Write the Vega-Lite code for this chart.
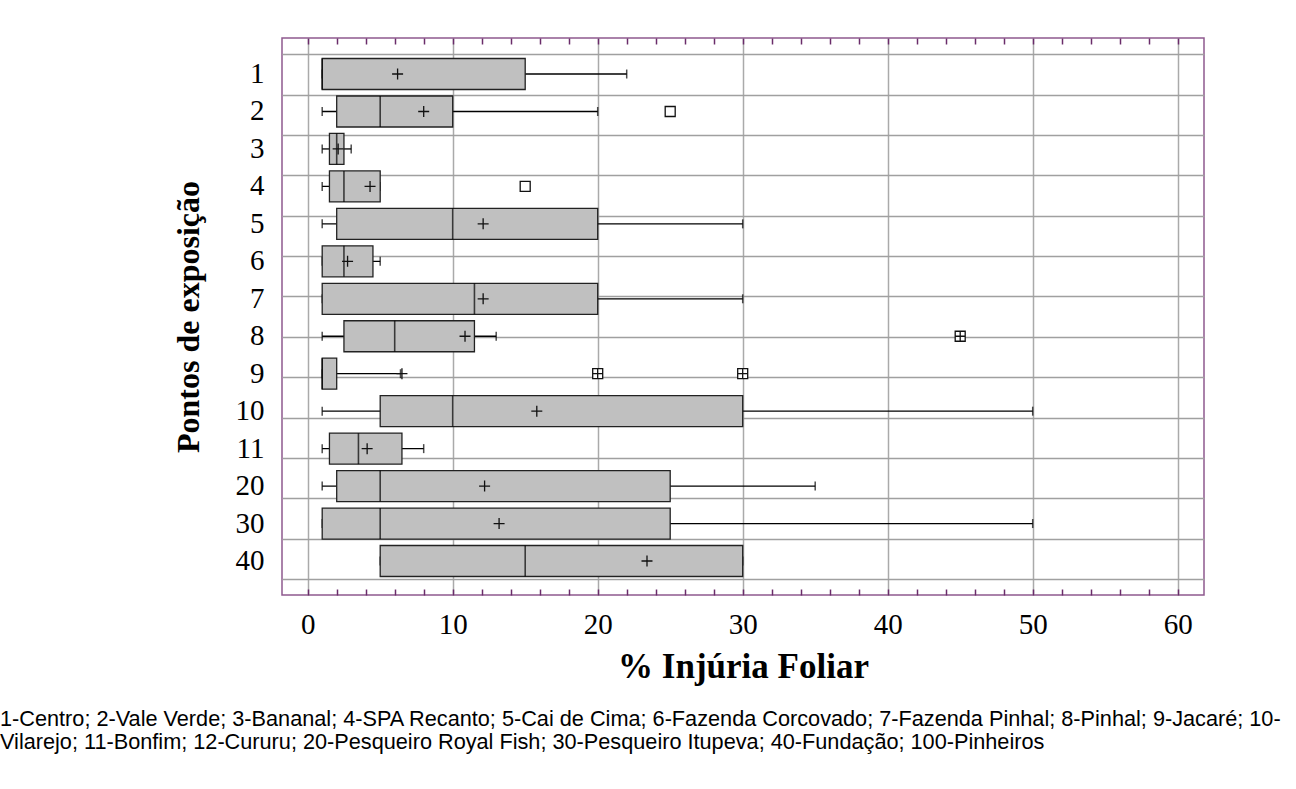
{
  "$schema": "https://vega.github.io/schema/vega-lite/v6.json",
  "width": 922,
  "height": 557,
  "autosize": {"type": "none"},
  "padding": {"left": 282, "top": 38, "right": 92, "bottom": 194},
  "background": "white",
  "config": {
    "view": {"stroke": "#8e5a8e", "strokeWidth": 1.5},
    "font": "Liberation Serif",
    "axis": {"labelColor": "black", "titleColor": "black"}
  },
  "title": {
    "text": [
      "1-Centro; 2-Vale Verde; 3-Bananal; 4-SPA Recanto; 5-Cai de Cima; 6-Fazenda Corcovado; 7-Fazenda Pinhal; 8-Pinhal; 9-Jacaré; 10-",
      "Vilarejo; 11-Bonfim; 12-Cururu; 20-Pesqueiro Royal Fish; 30-Pesqueiro Itupeva; 40-Fundação; 100-Pinheiros"
    ],
    "orient": "bottom",
    "anchor": "start",
    "frame": "group",
    "font": "Liberation Sans",
    "fontSize": 21.7,
    "fontWeight": "normal",
    "lineHeight": 23,
    "color": "black",
    "dx": -282,
    "offset": 25
  },
  "datasets": {
    "boxes": [
      {"ponto": "1", "min": 1, "q1": 1, "median": 1, "q3": 15, "max": 22, "mean": 6.2},
      {"ponto": "2", "min": 1, "q1": 2, "median": 5, "q3": 10, "max": 20, "mean": 8},
      {"ponto": "3", "min": 1, "q1": 1.5, "median": 2, "q3": 2.5, "max": 3, "mean": 2.1},
      {"ponto": "4", "min": 1, "q1": 1.5, "median": 2.5, "q3": 5, "max": 5, "mean": 4.3},
      {"ponto": "5", "min": 1, "q1": 2, "median": 10, "q3": 20, "max": 30, "mean": 12.1},
      {"ponto": "6", "min": 1, "q1": 1, "median": 2.5, "q3": 4.5, "max": 5, "mean": 2.75},
      {"ponto": "7", "min": 1, "q1": 1, "median": 11.5, "q3": 20, "max": 30, "mean": 12.1},
      {"ponto": "8", "min": 1, "q1": 2.5, "median": 6, "q3": 11.5, "max": 13, "mean": 10.85},
      {"ponto": "9", "min": 1, "q1": 1, "median": 1, "q3": 2, "max": 6.4, "mean": 6.5},
      {"ponto": "10", "min": 1, "q1": 5, "median": 10, "q3": 30, "max": 50, "mean": 15.8},
      {"ponto": "11", "min": 1, "q1": 1.5, "median": 3.5, "q3": 6.5, "max": 8, "mean": 4.1},
      {"ponto": "20", "min": 1, "q1": 2, "median": 5, "q3": 25, "max": 35, "mean": 12.2},
      {"ponto": "30", "min": 1, "q1": 1, "median": 5, "q3": 25, "max": 50, "mean": 13.2},
      {"ponto": "40", "min": 5, "q1": 5, "median": 15, "q3": 30, "max": 30, "mean": 23.4}
    ],
    "outliers": [
      {"ponto": "2", "value": 25, "kind": "outlier"},
      {"ponto": "4", "value": 15, "kind": "outlier"},
      {"ponto": "8", "value": 45, "kind": "extreme"},
      {"ponto": "9", "value": 20, "kind": "extreme"},
      {"ponto": "9", "value": 30, "kind": "extreme"}
    ]
  },
  "data": {"name": "boxes"},
  "layer": [
    {
      "mark": {"type": "point", "opacity": 0, "size": 0},
      "encoding": {
        "x": {
          "datum": 0, "type": "quantitative",
          "scale": {"domain": [-1.772, 61.814], "nice": false, "zero": false},
          "axis": {
            "orient": "top", "values": [0,2,4,6,8,10,12,14,16,18,20,22,24,26,28,30,32,34,36,38,40,42,44,46,48,50,52,54,56,58,60],
            "tickCount": 100,
            "labels": false, "ticks": true, "tickSize": -6, "tickColor": "#6a2c6a", "tickWidth": 1.5,
            "domain": false, "grid": false, "title": null
          }
        },
        "y": {
          "datum": 0, "type": "quantitative",
          "scale": {"domain": [-0.404, 13.396], "reverse": true, "nice": false, "zero": false},
          "axis": {
            "orient": "right", "values": [0,1,2,3,4,5,6,7,8,9,10,11,12,13],
            "tickCount": 100,
            "labels": false, "ticks": false, "domain": false, "grid": true,
            "gridColor": "#a0a0a0", "gridWidth": 1.5, "title": null
          }
        }
      }
    },
    {
      "layer": [
        {
          "mark": {"type": "rule", "color": "black", "strokeWidth": 1.3},
          "encoding": {
            "x": {
              "field": "min", "type": "quantitative",
              "scale": {"domain": [-1.772, 61.814], "nice": false, "zero": false},
              "axis": {
                "orient": "bottom", "values": [0,2,4,6,8,10,12,14,16,18,20,22,24,26,28,30,32,34,36,38,40,42,44,46,48,50,52,54,56,58,60],
                "tickCount": 100,
                "format": "d",
                "labelExpr": "datum.value % 10 === 0 ? format(datum.value, 'd') : ''",
                "labelOverlap": false,
                "labelFont": "Liberation Serif", "labelFontSize": 29, "labelPadding": 21,
                "ticks": true, "tickSize": -6, "tickColor": "#6a2c6a", "tickWidth": 1.5,
                "domain": false, "grid": true, "gridColor": "#aaaaaa", "gridWidth": 1.5,
                "gridOpacity": {"condition": {"test": "datum.value % 10 === 0", "value": 1}, "value": 0},
                "title": "% Injúria Foliar", "titleFont": "Liberation Serif", "titleFontSize": 35,
                "titleFontWeight": "bold", "titlePadding": 10
              }
            },
            "x2": {"field": "max"},
            "y": {
              "field": "ponto", "type": "nominal",
              "scale": {"type": "band", "domain": ["1","2","3","4","5","6","7","8","9","10","11","20","30","40"], "paddingInner": 0.1724, "paddingOuter": 0.5207, "align": 0.526},
              "axis": {
                "orient": "left", "labelFont": "Liberation Serif", "labelFontSize": 29, "labelPadding": 18,
                "ticks": false, "domain": false, "grid": false,
                "title": "Pontos de exposição", "titleFont": "Liberation Serif", "titleFontSize": 32,
                "titleFontWeight": "bold", "titlePadding": 30
              }
            }
          }
        },
        {
          "mark": {"type": "tick", "color": "black", "size": 9, "thickness": 1.5},
          "encoding": {
            "x": {"field": "min", "type": "quantitative", "scale": {"domain": [-1.772, 61.814], "nice": false, "zero": false}},
            "y": {"field": "ponto", "type": "nominal", "scale": {"type": "band", "domain": ["1","2","3","4","5","6","7","8","9","10","11","20","30","40"], "paddingInner": 0.1724, "paddingOuter": 0.5207, "align": 0.526}}
          }
        },
        {
          "mark": {"type": "tick", "color": "black", "size": 9, "thickness": 1.5},
          "encoding": {
            "x": {"field": "max", "type": "quantitative", "scale": {"domain": [-1.772, 61.814], "nice": false, "zero": false}},
            "y": {"field": "ponto", "type": "nominal", "scale": {"type": "band", "domain": ["1","2","3","4","5","6","7","8","9","10","11","20","30","40"], "paddingInner": 0.1724, "paddingOuter": 0.5207, "align": 0.526}}
          }
        },
        {
          "mark": {"type": "bar", "fill": "#c0c0c0", "stroke": "#222222", "strokeWidth": 1.3},
          "encoding": {
            "x": {"field": "q1", "type": "quantitative", "scale": {"domain": [-1.772, 61.814], "nice": false, "zero": false}},
            "x2": {"field": "q3"},
            "y": {"field": "ponto", "type": "nominal", "scale": {"type": "band", "domain": ["1","2","3","4","5","6","7","8","9","10","11","20","30","40"], "paddingInner": 0.1724, "paddingOuter": 0.5207, "align": 0.526}}
          }
        },
        {
          "mark": {"type": "tick", "color": "black", "size": 31, "thickness": 1.6},
          "encoding": {
            "x": {"field": "median", "type": "quantitative", "scale": {"domain": [-1.772, 61.814], "nice": false, "zero": false}},
            "y": {"field": "ponto", "type": "nominal", "scale": {"type": "band", "domain": ["1","2","3","4","5","6","7","8","9","10","11","20","30","40"], "paddingInner": 0.1724, "paddingOuter": 0.5207, "align": 0.526}}
          }
        },
        {
          "mark": {"type": "point", "shape": "M-1,0L1,0M0,-1L0,1", "size": 121, "stroke": "#111111", "strokeWidth": 1.3, "filled": false, "opacity": 1},
          "encoding": {
            "x": {"field": "mean", "type": "quantitative", "scale": {"domain": [-1.772, 61.814], "nice": false, "zero": false}},
            "y": {"field": "ponto", "type": "nominal", "scale": {"type": "band", "domain": ["1","2","3","4","5","6","7","8","9","10","11","20","30","40"], "paddingInner": 0.1724, "paddingOuter": 0.5207, "align": 0.526}}
          }
        },
        {
          "data": {"name": "outliers"},
          "mark": {"type": "point", "filled": false, "stroke": "#111111", "fill": "white", "fillOpacity": 1, "strokeWidth": 1.3, "opacity": 1, "size": 100},
          "encoding": {
            "x": {"field": "value", "type": "quantitative", "scale": {"domain": [-1.772, 61.814], "nice": false, "zero": false}},
            "y": {"field": "ponto", "type": "nominal", "scale": {"type": "band", "domain": ["1","2","3","4","5","6","7","8","9","10","11","20","30","40"], "paddingInner": 0.1724, "paddingOuter": 0.5207, "align": 0.526}},
            "shape": {
              "field": "kind", "type": "nominal",
              "scale": {"domain": ["outlier", "extreme"], "range": ["square", "M-1,-1L1,-1L1,1L-1,1ZM-1,0L1,0M0,-1L0,1"]},
              "legend": null
            }
          }
        }
      ]
    }
  ],
  "resolve": {"scale": {"y": "independent"}, "axis": {"x": "independent", "y": "independent"}}
}
